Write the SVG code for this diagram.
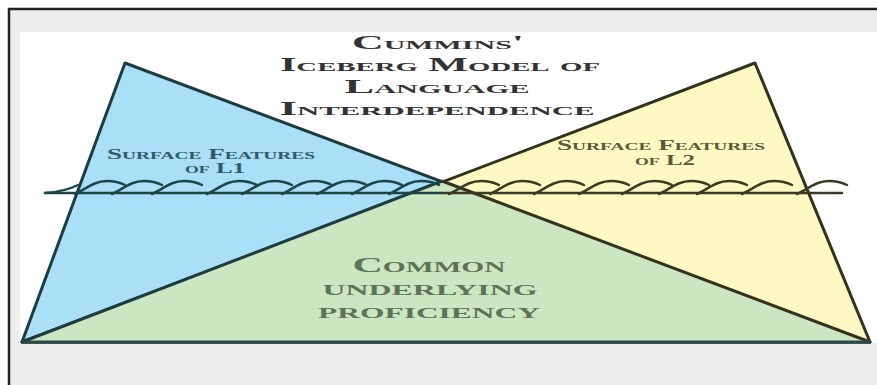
<svg xmlns="http://www.w3.org/2000/svg" width="877" height="385" viewBox="0 0 877 385">
<style>
.title{font-family:"Liberation Serif",serif;font-weight:bold;font-variant:small-caps;fill:#333;text-anchor:middle;font-size:19px}
.sf1{font-family:"Liberation Serif",serif;font-weight:bold;font-variant:small-caps;fill:#2e5a66;text-anchor:middle;font-size:14px}
.sf2{font-family:"Liberation Serif",serif;font-weight:bold;font-variant:small-caps;fill:#5a5a3a;text-anchor:middle;font-size:14px}
.cup{font-family:"Liberation Serif",serif;font-weight:bold;font-variant:small-caps;fill:#5d7256;text-anchor:middle;font-size:20px}
.wl{fill:none;stroke:#1d4548;stroke-width:2.5;stroke-linecap:round}
.wr{fill:none;stroke:#3b3a22;stroke-width:2.5;stroke-linecap:round}
</style>
<defs>
<path id="wave" d="M0,0 C10,-4 18,-13 32,-13 C40,-13 46,-11 50,-9"/>
</defs>
<rect x="0" y="0" width="877" height="385" fill="#ffffff"/>
<rect x="9" y="9" width="868" height="376" fill="#eeeeee"/>
<path d="M9,385 V9 H877" fill="none" stroke="#222" stroke-width="2.5"/>
<rect x="20" y="32" width="857" height="311" fill="#ffffff"/>
<g id="blue-triangle">
<polygon points="125,63 22,342 870,342" fill="#aadff8" stroke="#1d3c40" stroke-width="3" stroke-linejoin="round"/>
</g>
<g id="yellow-triangle">
<polygon points="755,63 870,342 22,342" fill="#fef9c3" stroke="#33321f" stroke-width="3" stroke-linejoin="round"/>
</g>
<g id="common-underlying">
<polygon points="22,342 870,342 442,181" fill="#cde6c2"/>
<line x1="22" y1="342" x2="442" y2="181" stroke="#1d3c40" stroke-width="3"/>
<line x1="442" y1="181" x2="870" y2="342" stroke="#33321f" stroke-width="3"/>
<line x1="22" y1="342" x2="870" y2="342" stroke="#2a4a48" stroke-width="3"/>
</g>
<g id="waterline">
<line x1="45" y1="193" x2="442" y2="193" class="wl"/>
<line x1="442" y1="193" x2="842" y2="193" class="wr"/>
<path d="M45,193 C60,192 70,189 78,185" class="wl"/>
<use href="#wave" x="75" y="194" class="wl"/>
<use href="#wave" x="112" y="194" class="wl"/>
<use href="#wave" x="152" y="194" class="wl"/>
<use href="#wave" x="207" y="194" class="wl"/>
<use href="#wave" x="242" y="194" class="wl"/>
<use href="#wave" x="282" y="194" class="wl"/>
<use href="#wave" x="317" y="194" class="wl"/>
<use href="#wave" x="352" y="194" class="wl"/>
<use href="#wave" x="389" y="194" class="wl"/>
<use href="#wave" x="449" y="194" class="wr"/>
<use href="#wave" x="490" y="194" class="wr"/>
<use href="#wave" x="534" y="194" class="wr"/>
<use href="#wave" x="579" y="194" class="wr"/>
<use href="#wave" x="622" y="194" class="wr"/>
<use href="#wave" x="659" y="194" class="wr"/>
<use href="#wave" x="697" y="194" class="wr"/>
<use href="#wave" x="742" y="194" class="wr"/>
<use href="#wave" x="797" y="194" class="wr"/>
</g>
<g id="title">
<text class="title" x="438" y="49" textLength="172" lengthAdjust="spacingAndGlyphs">Cummins'</text>
<text class="title" x="440" y="71" textLength="320" lengthAdjust="spacingAndGlyphs">Iceberg Model of</text>
<text class="title" x="437" y="93" textLength="185" lengthAdjust="spacingAndGlyphs">Language</text>
<text class="title" x="437" y="115" textLength="315" lengthAdjust="spacingAndGlyphs">Interdependence</text>
</g>
<g id="label-l1">
<text class="sf1" x="211" y="159" textLength="208" lengthAdjust="spacingAndGlyphs">Surface Features</text>
<text class="sf1" x="215" y="173" textLength="60" lengthAdjust="spacingAndGlyphs">of L1</text>
</g>
<g id="label-l2">
<text class="sf2" x="661" y="150" textLength="208" lengthAdjust="spacingAndGlyphs">Surface Features</text>
<text class="sf2" x="665" y="165" textLength="60" lengthAdjust="spacingAndGlyphs">of L2</text>
</g>
<g id="label-cup">
<text class="cup" x="429" y="272" textLength="153" lengthAdjust="spacingAndGlyphs">Common</text>
<text class="cup" x="430" y="295" textLength="215" lengthAdjust="spacingAndGlyphs">underlying</text>
<text class="cup" x="429" y="318" textLength="222" lengthAdjust="spacingAndGlyphs">proficiency</text>
</g>
</svg>
